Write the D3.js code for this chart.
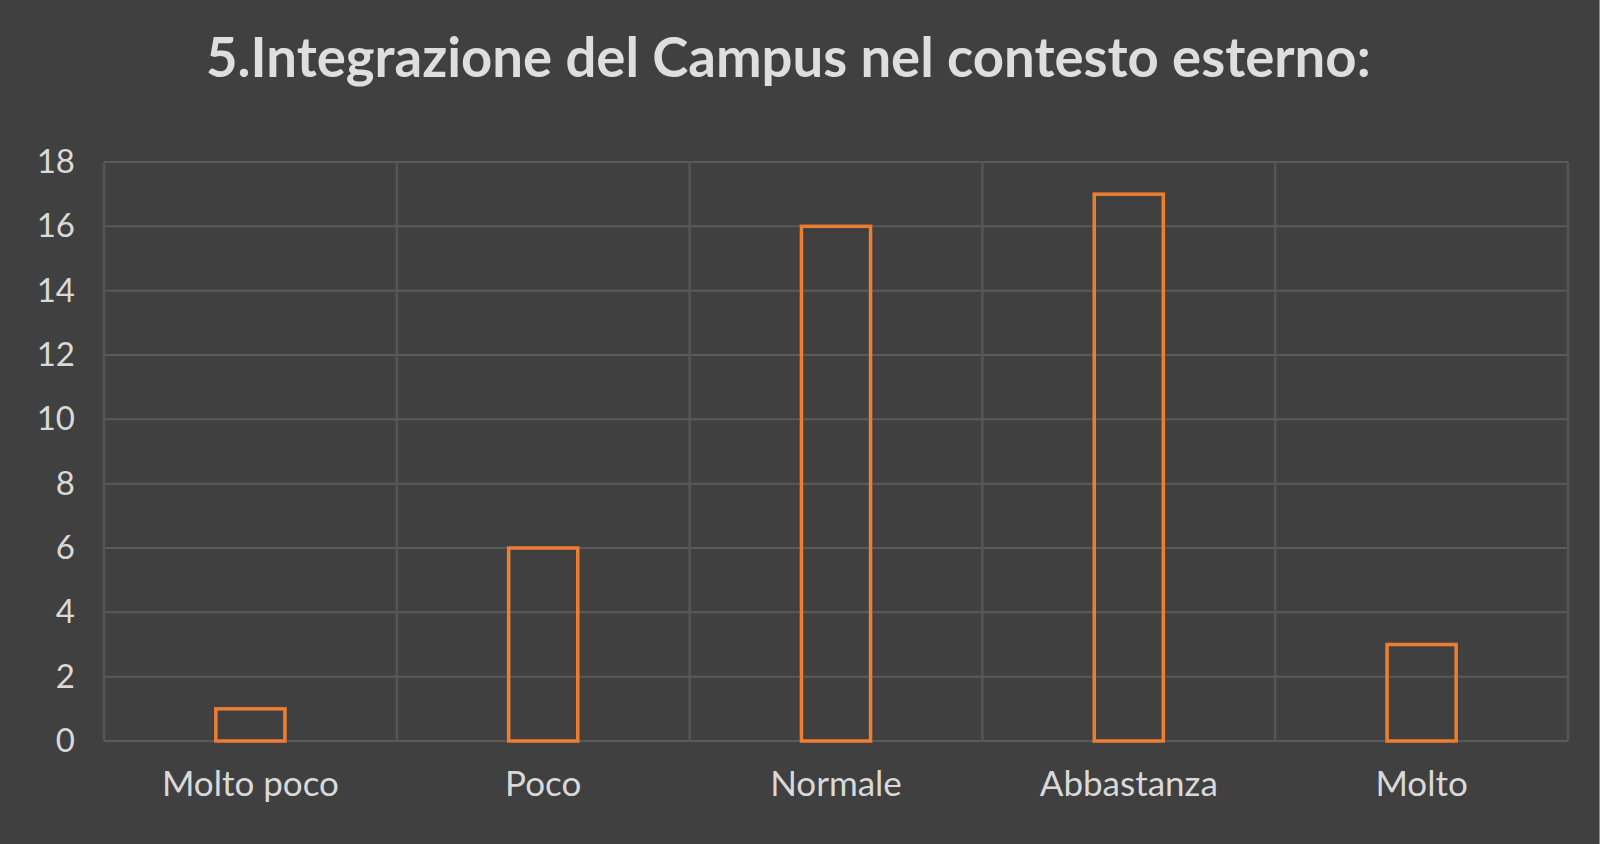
<!DOCTYPE html>
<html>
<head>
<meta charset="utf-8">
<script src="https://cdn.jsdelivr.net/npm/d3@7"></script>
<style>
  html, body { margin: 0; padding: 0; background: #404040; }
  svg { display: block; }
</style>
</head>
<body>
<div id="chart"></div>
<script>
// data
var categories = ["Molto poco", "Poco", "Normale", "Abbastanza", "Molto"];
var counts = [1, 6, 16, 17, 3];
var yTicks = [0, 2, 4, 6, 8, 10, 12, 14, 16, 18];
var titleText = "5.Integrazione del Campus nel contesto esterno:";

var svgWidth = 1600;
var svgHeight = 844;

var margin = { top: 162, right: 32, bottom: 103, left: 104 };
var width = svgWidth - margin.left - margin.right;
var height = svgHeight - margin.top - margin.bottom;

var svg = d3.select("#chart")
  .append("svg")
  .attr("width", svgWidth)
  .attr("height", svgHeight);

svg.append("rect")
  .attr("width", svgWidth)
  .attr("height", svgHeight)
  .attr("fill", "#404040");

// thin light edge on the right side
svg.append("rect")
  .attr("x", svgWidth - 1)
  .attr("width", 1)
  .attr("height", svgHeight)
  .attr("fill", "#8a8a8a");

var chartGroup = svg.append("g")
  .attr("transform", `translate(${margin.left}, ${margin.top})`);

var xScale = d3.scaleBand()
  .domain(categories)
  .range([0, width])
  .padding(0);

var yScale = d3.scaleLinear()
  .domain([0, 18])
  .range([height, 0]);

// horizontal gridlines
chartGroup.append("g")
  .selectAll("line")
  .data(yTicks)
  .enter()
  .append("line")
  .attr("x1", 0)
  .attr("x2", width)
  .attr("y1", d => yScale(d))
  .attr("y2", d => yScale(d))
  .attr("stroke", "#5a5a5a")
  .attr("stroke-width", 2);

// vertical gridlines at category boundaries
var bounds = categories.map(c => xScale(c)).concat([width]);
chartGroup.append("g")
  .selectAll("line")
  .data(bounds)
  .enter()
  .append("line")
  .attr("x1", d => d)
  .attr("x2", d => d)
  .attr("y1", 0)
  .attr("y2", height)
  .attr("stroke", "#555555")
  .attr("stroke-width", 2.5);

// y axis (labels only)
var leftAxis = d3.axisLeft(yScale)
  .tickValues(yTicks)
  .tickSize(0)
  .tickPadding(29);

var yAxisG = chartGroup.append("g").call(leftAxis);
yAxisG.select(".domain").remove();
yAxisG.selectAll("text")
  .attr("fill", "#d9d9d9")
  .attr("font-family", "Lato, 'Open Sans', sans-serif")
  .attr("font-size", 33);

// x axis (labels only)
var bottomAxis = d3.axisBottom(xScale)
  .tickSize(0)
  .tickPadding(30);

var xAxisG = chartGroup.append("g")
  .attr("transform", `translate(0, ${height})`)
  .call(bottomAxis);
xAxisG.select(".domain").remove();
xAxisG.selectAll("text")
  .attr("fill", "#d9d9d9")
  .attr("font-family", "Lato, 'Open Sans', sans-serif")
  .attr("font-size", 35);

// outlined bars
var barFrac = 0.236;
var barW = xScale.bandwidth() * barFrac;

chartGroup.append("g")
  .selectAll("rect")
  .data(counts)
  .enter()
  .append("rect")
  .attr("x", (d, i) => xScale(categories[i]) + (xScale.bandwidth() - barW) / 2)
  .attr("y", d => yScale(d))
  .attr("width", barW)
  .attr("height", d => height - yScale(d))
  .attr("fill", "none")
  .attr("stroke", "#ed7d31")
  .attr("stroke-width", 3.5);

// title
var title = svg.append("text")
  .attr("x", 206)
  .attr("y", 77)
  .attr("fill", "#dedede")
  .attr("font-family", "Lato, 'Open Sans', sans-serif")
  .attr("font-weight", "bold")
  .attr("font-size", 50)
  .text(titleText);

// fit title width to the reference span
var targetW = 1165;
var w = title.node().getComputedTextLength();
if (w > 0) {
  title.attr("font-size", 50 * targetW / w);
}
</script>
</body>
</html>
